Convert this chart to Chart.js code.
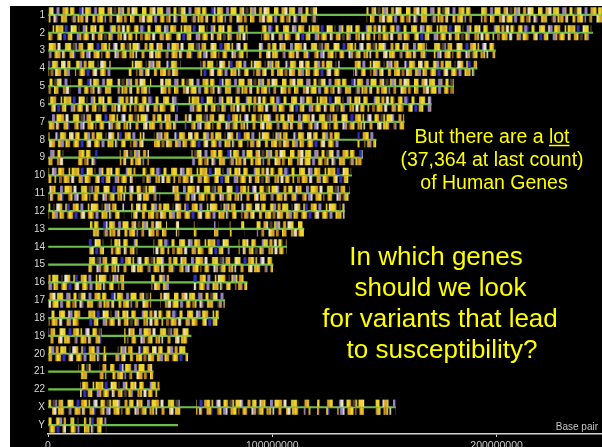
<!DOCTYPE html>
<html><head><meta charset="utf-8">
<script src="https://cdn.jsdelivr.net/npm/chart.js@4"></script>
<style>
html,body{margin:0;padding:0;background:#fff;width:602px;height:447px;overflow:hidden}
#wrap{position:absolute;left:10px;top:6px;width:592px;height:441px;background:#000}
canvas{display:block}
</style></head><body>
<div id="wrap"><canvas id="c" width="592" height="441"></canvas></div>
<script>
// ---------- data ----------
const chromosomes = ['1','2','3','4','5','6','7','8','9','10','11','12','13','14','15','16','17','18','19','20','21','22','X','Y'];
const chromLengthMb = [247.2,242.9,199.5,191.3,180.9,170.9,158.8,146.3,140.3,135.4,134.5,132.3,114.1,106.4,100.3,88.8,78.8,76.1,63.8,62.4,46.9,49.7,154.9,57.8];
// gene-rich stretches (Mb), one list per chromosome
const geneRegionsMb = [
  [[0,120],[142,189],[193,247.2]],
  [[0,89],[95,242.9]],
  [[0,89],[94,169],[172,199.5]],
  [[0,10],[12,28],[36,59],[68,130],[136,191.3]],
  [[0,10],[13,29],[31,46],[50,180.9]],
  [[0,58],[62,170.9]],
  [[0,58],[61,158.8]],
  [[0,43],[47,130],[138,146.3]],
  [[0,7],[13,22],[32,45],[64,140.3]],
  [[0,39],[42,135.4]],
  [[0,50],[55,134.5]],
  [[0,34],[37,132.3]],
  [[18.7,53],[57,58.5],[65,66.5],[74,76],[81,82],[86,87.5],[93,114.1]],
  [[18,25],[28,40],[47,81],[85,106.4]],
  [[18,100.3]],
  [[0,34],[46,54],[65,88.8]],
  [[0,46],[50,78.8]],
  [[0,15],[18,76.1]],
  [[0,24],[34,63.8]],
  [[0,26],[30,62.4]],
  [[13.5,19],[23,26],[27.6,46.9]],
  [[14.3,49.7]],
  [[0,59],[66,112],[114,117],[120,122],[124,127],[129,141],[146,154.9]],
  [[0,8],[10,14],[16,26]]
];
const xTickValues = [0, 100000000, 200000000];
const axisTitle = 'Base pair';
const noteSmall = ['But there are a ', 'lot', '(37,364 at last count)', 'of Human Genes'];
const noteLarge = ['In which genes', 'should we look', 'for variants that lead', 'to susceptibility?'];

// ---------- style: stripe textures (1 char = 1 column, scaled & softened) ----------
const TEX_COLORS = {Y:'#efd42a', y:'#c8c43a', G:'#d8a226', O:'#9a6a22', W:'#e8e2c8', L:'#9284bc', B:'#3030b8', D:'#4a4030'};
const TEX_UP = [
  "YYY..GGWW.YyYY..LLG..YY.DDYYW..LL..GGYy.YYG...BBW.YYyG..LL.YYYY..GGW.DD.YLLY..GG.WWYY...",
  "GYYY..WLL.YYGG...Y.YyGGY.BB..WYYY.D..LLY..YYGW..YYG....LYyY.GG.WW.YYD..GYY.LLB..YY...",
  "LL.YYYGG.WW...YyYY.DDL.GGY...YWYY..BB.GGYY.Y..LWW..YYG.DDY.YYYWL...GG.yYY..WGGY...",
  "YWW.GYY...YYLL.GG.YYyY..D.WWYG..YBB..GGYY.LL...Y.WYYYG..D.YLLY.GGY....WB.YYyG.."
];
const TEX_LO = [
  "GGYY.OO.WYGG..YGLL.YGG..OYYG.BB..GWW..GYYO.LL..YGGy.WD..GYY...O.GGL.GYW...YG..",
  "YGG...GOWW.GYYY.LL..GYG.OOY..WGB..YGGy...DGL.YOGG.GW...YG.GGYY.L..OG...WYGG.GO..",
  "OO.GYGG.WW...GGL.YYGO...GYW.BB.GyY...LLG.OYYG..WG..GGY.DD.YGL...GOY.WW.GYG..Y..",
  "GWW.YGYG...OL..GYGG.WG...GGYB...OGY.LLW..GGYY.O..GYG...WLG.DGyY..GOY.W...GG..."
];
const TEX_SCALE = 1.5;
function makeTexture(str){
  const src = document.createElement('canvas'); src.width = str.length; src.height = 1;
  const g = src.getContext('2d');
  for (let i = 0; i < str.length; i++) { const c = TEX_COLORS[str[i]]; if (c) { g.fillStyle = c; g.fillRect(i, 0, 1, 1); } }
  const cv = document.createElement('canvas'); cv.width = Math.round(str.length * TEX_SCALE); cv.height = 1;
  const h = cv.getContext('2d'); h.imageSmoothingEnabled = true;
  h.drawImage(src, 0, 0, cv.width, 1);
  return cv;
}
const canvas = document.getElementById('c');
const mainCtx = canvas.getContext('2d');
const texUp = TEX_UP.map(makeTexture), texLo = TEX_LO.map(makeTexture);
function rowPattern(tex, shift){
  const p = mainCtx.createPattern(tex, 'repeat');
  if (p.setTransform) p.setTransform(new DOMMatrix([1,0,0,1,shift,0]));
  return p;
}
const upPatterns = chromosomes.map((c,r) => rowPattern(texUp[r % 4], (r * 17) % 60));
const loPatterns = chromosomes.map((c,r) => rowPattern(texLo[(r + 1) % 4], (r * 11) % 50));

// ---------- build datasets from the arrays ----------
const MB = 1e6;
const plusData = [], minusData = [];
geneRegionsMb.forEach((regs, i) => regs.forEach(([s, e]) => {
  plusData.push({y: chromosomes[i], x: [s * MB, e * MB]});
  minusData.push({y: chromosomes[i], x: [s * MB, e * MB]});
}));
const backboneData = chromosomes.map((c, i) => ({y: c, x: [0, chromLengthMb[i] * MB]}));
const rowIdx = ctx => (ctx.raw ? chromosomes.indexOf(ctx.raw.y) : 0);

const FONT = "'Liberation Sans', Arial, Helvetica, sans-serif";
Chart.defaults.font.family = FONT;

const notesPlugin = {
  id: 'notes',
  afterDraw(chart){
    const ctx = chart.ctx, ca = chart.chartArea;
    ctx.save();
    // axis caption
    ctx.fillStyle = '#c4c4c4'; ctx.font = "10px " + FONT;
    ctx.textAlign = 'right'; ctx.textBaseline = 'alphabetic';
    ctx.fillText(axisTitle, ca.right - 4, ca.bottom - 4);
    // small note
    ctx.fillStyle = '#ffff00'; ctx.strokeStyle = '#ffff00';
    ctx.font = "19.5px " + FONT; ctx.textAlign = 'left';
    const l1 = noteSmall[0] + noteSmall[1];
    const w1 = ctx.measureText(l1).width, wl = ctx.measureText(noteSmall[1]).width;
    const cx1 = 482, x1 = cx1 - w1 / 2;
    ctx.fillText(l1, x1, 137);
    ctx.lineWidth = 1.5; ctx.beginPath();
    ctx.moveTo(x1 + w1 - wl, 139.5); ctx.lineTo(x1 + w1, 139.5); ctx.stroke();
    ctx.textAlign = 'center';
    ctx.fillText(noteSmall[2], 482, 160);
    ctx.fillText(noteSmall[3], 484, 183);
    // large note
    ctx.font = "26px " + FONT;
    const cxs = [426, 430.5, 430, 432], bys = [259, 290, 321, 352];
    noteLarge.forEach((t, i) => ctx.fillText(t, cxs[i], bys[i]));
    ctx.restore();
  }
};

new Chart(canvas, {
  type: 'bar',
  data: {
    labels: chromosomes,
    datasets: [
      {label:'backbone', data: backboneData, grouped:false, barThickness:1.5, order:2,
       backgroundColor:'#6cbf4c', borderWidth:0},
      {label:'plus', data: plusData, order:1, categoryPercentage:0.9, barPercentage:0.9,
       backgroundColor: ctx => upPatterns[rowIdx(ctx)], borderWidth:0},
      {label:'minus', data: minusData, order:1, categoryPercentage:0.9, barPercentage:0.9,
       backgroundColor: ctx => loPatterns[rowIdx(ctx)], borderWidth:0}
    ]
  },
  options: {
    indexAxis:'y', responsive:false, animation:false, devicePixelRatio:1, events:[],
    layout:{padding:0},
    plugins:{legend:{display:false}, tooltip:{enabled:false}},
    scales:{
      x:{
        type:'linear', min:0, max:247000000,
        afterBuildTicks: s => { s.ticks = xTickValues.map(v => ({value:v})); },
        afterFit: s => { s.height = 13; s.paddingLeft = 0; s.paddingRight = 0; },
        ticks:{color:'#c8c8c8', font:{size:10.5}, padding:3, maxRotation:0, autoSkip:false, callback: v => String(v)},
        grid:{display:true, drawOnChartArea:false, drawTicks:true, tickLength:3, color:'#cfcfcf'},
        border:{display:true, color:'#d4d4d4', width:1.5}
      },
      y:{
        type:'category', offset:true,
        afterFit: s => { s.width = 38; s.paddingTop = 0; s.paddingBottom = 0; },
        ticks:{color:'#d8d8d8', font:{size:10}, padding:3, autoSkip:false},
        grid:{display:false, drawTicks:false}, border:{display:false}
      }
    }
  },
  plugins:[notesPlugin]
});
</script>
</body></html>
